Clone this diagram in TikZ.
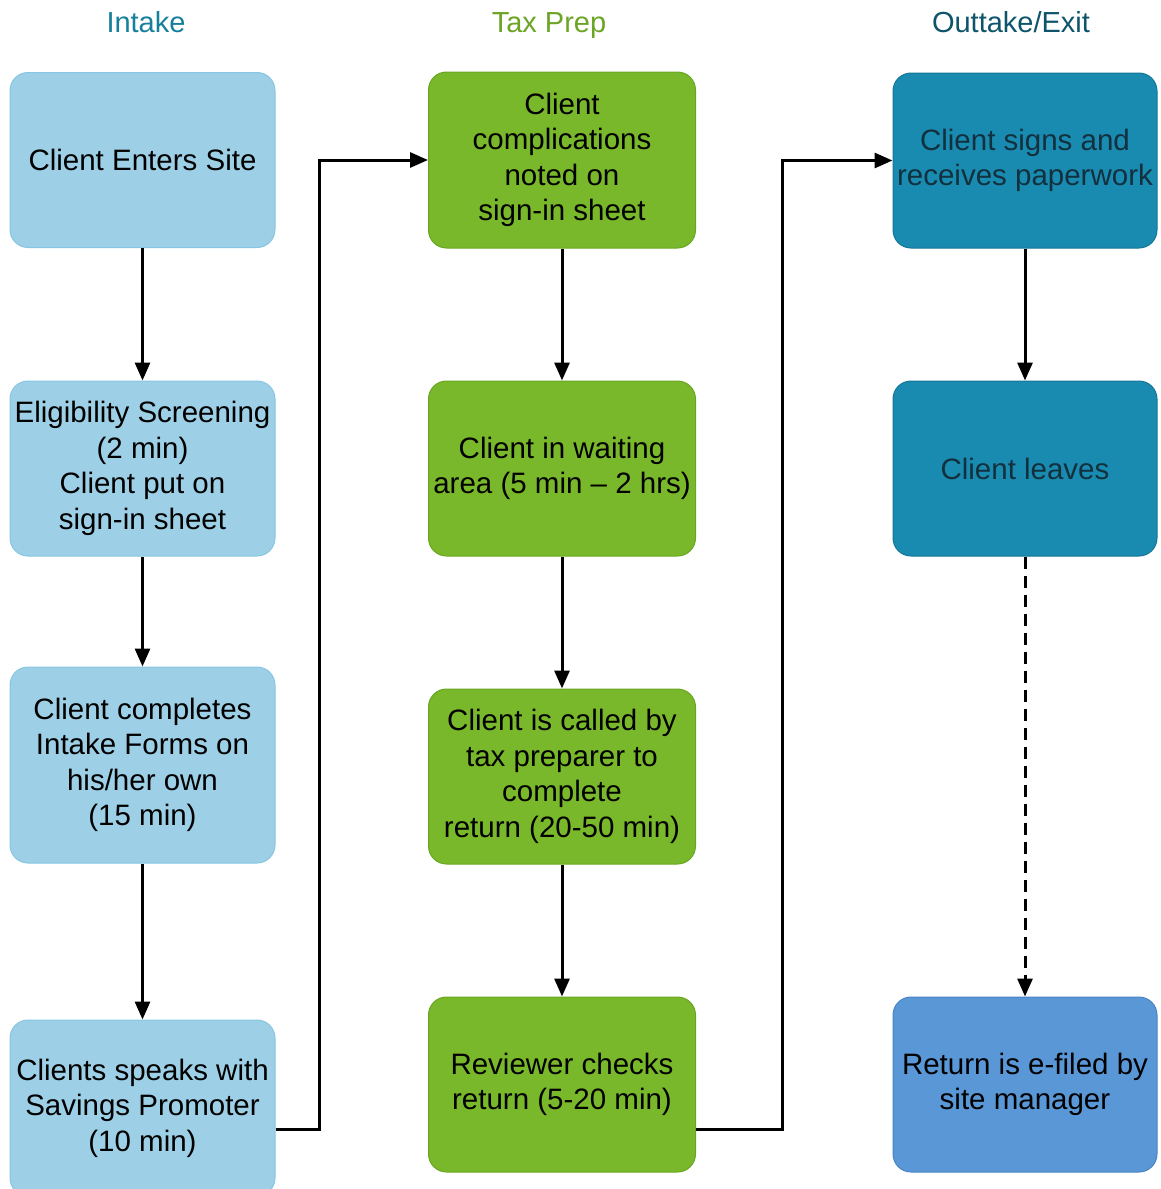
\documentclass[tikz,border=0pt]{standalone}
\usepackage{fontspec}
\setmainfont{Liberation Sans}
\usetikzlibrary{arrows.meta}

\definecolor{intakefill}{RGB}{157,208,230}
\definecolor{intakeline}{RGB}{135,198,226}
\definecolor{prepfill}{RGB}{121,184,42}
\definecolor{prepline}{RGB}{104,166,34}
\definecolor{exitfill}{RGB}{26,139,176}
\definecolor{exitline}{RGB}{20,118,152}
\definecolor{filefill}{RGB}{90,151,214}
\definecolor{fileline}{RGB}{72,132,198}
\definecolor{intakehead}{RGB}{22,128,156}
\definecolor{prephead}{RGB}{108,164,38}
\definecolor{exithead}{RGB}{14,84,106}
\definecolor{exittext}{RGB}{18,48,62}

\begin{document}
\begin{tikzpicture}[x=1pt,y=-1pt,
  every node/.style={font=\fontsize{29.5}{35.5}\selectfont, align=center, inner sep=0pt},
  box/.style={rectangle, rounded corners=18pt, line width=1pt,
    minimum height=175pt},
  intakebox/.style={box, fill=intakefill, draw=intakeline, minimum width=265pt},
  prepbox/.style={box, fill=prepfill, draw=prepline, minimum width=267pt},
  exitbox/.style={box, fill=exitfill, draw=exitline, minimum width=264pt, text=exittext},
  filebox/.style={box, fill=filefill, draw=fileline, minimum width=264pt},
  head/.style={font=\fontsize{29}{34}\selectfont, anchor=base},
  arr/.style={line width=3pt, -{Triangle[length=18pt,width=15pt]}}
]
\useasboundingbox (0,0) rectangle (1161,1189);

% column headings
\node[head, text=intakehead] (hIntake) at (146,32) {Intake};
\node[head, text=prephead]   (hPrep)   at (549,32) {Tax Prep};
\node[head, text=exithead]   (hExit)   at (1011,32) {Outtake/Exit};

% intake column
\node[intakebox] (a1) at (142.5,160) {Client Enters Site};
\node[intakebox] (a2) at (142.5,468.5) {Eligibility Screening\\(2 min)\\Client put on\\sign-in sheet};
\node[intakebox, minimum height=196pt] (a3) at (142.5,765) {Client completes\\Intake Forms on\\his/her own\\(15 min)};
\node[intakebox, minimum height=176pt] (a4) at (142.5,1108) {Clients speaks with\\Savings Promoter\\(10 min)};

% tax preparation column
\node[prepbox, minimum height=176pt] (b1) at (562,160) {Client\\complications\\noted on\\sign-in sheet};
\node[prepbox] (b2) at (562,468.5) {Client in waiting\\area (5 min -- 2 hrs)};
\node[prepbox] (b3) at (562,776.5) {Client is called by\\tax preparer to\\complete\\return (20-50 min)};
\node[prepbox] (b4) at (562,1084.5) {Reviewer checks\\return (5-20 min)};

% exit column
\node[exitbox] (c1) at (1025,160.5) {Client signs and\\receives paperwork};
\node[exitbox] (c2) at (1025,468.5) {Client leaves};
\node[filebox] (c3) at (1025,1084.5) {Return is e-filed by\\site manager};

% flow within columns
\draw[arr] (a1.south) -- (a2.north);
\draw[arr] (a2.south) -- (a3.north);
\draw[arr] (a3.south) -- (a4.north);
\draw[arr] (b1.south) -- (b2.north);
\draw[arr] (b2.south) -- (b3.north);
\draw[arr] (b3.south) -- (b4.north);
\draw[arr] (c1.south) -- (c2.north);
\draw[arr, dash pattern=on 12pt off 7pt] (c2.south) -- (c3.north);

% flow between columns
\draw[arr] ([yshift=-21pt]a4.east) -- ++(44,0) |- (b1.west);
\draw[arr] ([yshift=-44.5pt]b4.east) -- ++(86,0) |- (c1.west);
\end{tikzpicture}
\end{document}
